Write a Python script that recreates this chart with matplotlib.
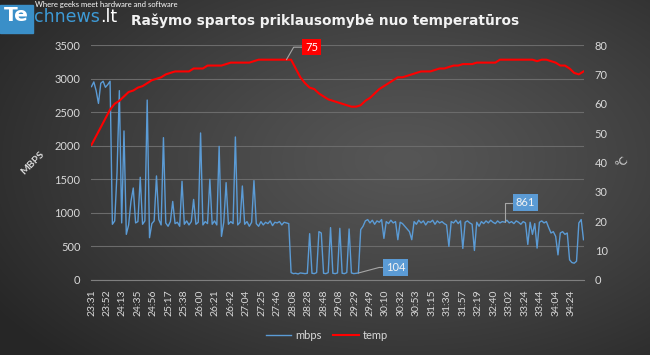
import numpy as np
import matplotlib
matplotlib.use('Agg')
import matplotlib.pyplot as plt
from matplotlib.patches import Rectangle

plt.rcParams['font.family'] = ['Lato', 'DejaVu Sans']

# x axis: one category per sample, every 20th sample labelled
n_points = 637
label_step = 20
time_labels = ['23:31', '23:52', '24:13', '24:35', '24:56', '25:17', '25:38', '26:00',
               '26:21', '26:42', '27:04', '27:25', '27:46', '28:08', '28:28', '28:48',
               '29:08', '29:29', '29:49', '30:10', '30:32', '30:53', '31:15', '31:36',
               '31:57', '32:19', '32:40', '33:02', '33:24', '33:44', '34:04', '34:24']

# write speed, read every 3rd sample
mbps = [2880, 2950, 2820, 2630, 2930, 2960, 2870, 2910, 2960, 830,
        880, 1600, 2820, 850, 2220, 680, 820, 1170, 1370, 850,
        870, 1530, 830, 880, 2680, 630, 840, 880, 1550, 900,
        820, 2120, 850, 800, 870, 1170, 840, 860, 800, 1470,
        830, 880, 820, 870, 1200, 830, 860, 2190, 820, 870,
        840, 1500, 830, 880, 820, 1990, 650, 860, 1450, 830,
        870, 840, 2130, 820, 860, 1400, 830, 870, 800, 860,
        1480, 840, 800, 870, 820, 860, 840, 880, 810, 860,
        850, 870, 820, 860, 850, 840, 110, 95, 100, 90,
        105, 100, 95, 100, 690, 100, 95, 110, 720, 700,
        100, 95, 110, 780, 100, 95, 105, 770, 100, 95,
        110, 760, 105, 95, 100, 104, 750, 800, 880, 900,
        850, 890, 830, 880, 860, 900, 620, 870, 840, 890,
        850, 870, 600, 860, 840, 800, 760, 720, 600, 870,
        830, 890, 850, 880, 820, 870, 860, 890, 830, 880,
        850, 870, 840, 820, 500, 870, 850, 890, 840, 880,
        470, 860, 880, 850, 830, 440, 860, 800, 870, 840,
        880, 850, 890, 860, 840, 880, 850, 870, 861, 890,
        850, 870, 840, 880, 860, 830, 870, 850, 530, 860,
        680, 840, 475, 860, 880, 850, 870, 780, 700, 720,
        650, 374, 700, 720, 680, 700, 300, 260, 250, 280,
        850, 900, 600]

# temperature, read every 6th sample
temp = [46, 49, 52, 55, 58, 60, 61, 62.5, 64, 64.5,
        65.5, 66, 67, 68, 68.5, 69, 70, 70.5, 71, 71,
        71, 71, 72, 72, 72, 73, 73, 73, 73, 73.5,
        74, 74, 74, 74, 74, 74.5, 75, 75, 75, 75,
        75, 75, 75, 75, 72, 69, 67, 65.5, 65, 63.5,
        62.5, 61.5, 61, 60.5, 60, 59.5, 59, 59, 59.5, 61,
        62, 63.5, 65, 66, 67, 68, 69, 69, 69.5, 70,
        70.5, 71, 71, 71, 71.5, 72, 72, 72.5, 73, 73,
        73.5, 73.5, 73.5, 74, 74, 74, 74, 74, 75, 75,
        75, 75, 75, 75, 75, 75, 74.5, 75, 75, 74.5,
        74, 73, 73, 72, 70.5, 70, 71]

x_mbps = np.linspace(0, n_points - 1, len(mbps))
x_temp = np.linspace(0, n_points - 1, len(temp))

fig = plt.figure(figsize=(6.5, 3.55), dpi=100)

# dark radial background
bg_ax = fig.add_axes([0, 0, 1, 1], zorder=-10)
yy, xx = np.mgrid[0:1:355j, 0:1:650j]
r = np.clip(np.sqrt(((xx - 0.62) / 0.75) ** 2 + ((yy - 0.45) / 0.8) ** 2), 0, 1)
grey = (86 - 48 * r ** 1.2) / 255
bg_ax.imshow(np.dstack([grey, grey, grey]), aspect='auto', extent=[0, 1, 0, 1])
bg_ax.axis('off')

ax = fig.add_axes([91.5 / 650, 1 - 280 / 355, 492 / 650, 235 / 355])
ax.patch.set_visible(False)
ax.plot(x_mbps, mbps, color='#5b9bd5', lw=1.0, label='mbps')
ax.set_xlim(0, n_points - 1)
ax.set_ylim(0, 3500)
ax.set_yticks(np.arange(0, 3501, 500))
ax.set_xticks(np.arange(0, n_points, label_step))
ax.set_xticklabels(time_labels, rotation=90, fontsize=7.5)
ax.grid(axis='y', color='#6b6b6b', lw=0.8)
ax.set_axisbelow(True)
ax.tick_params(axis='x', length=0, pad=7, colors='#d9d9d9')
ax.tick_params(axis='y', length=0, pad=8, colors='#d9d9d9', labelsize=8)
for s in ['top', 'left', 'right']:
    ax.spines[s].set_visible(False)
ax.spines['bottom'].set_color('#7f7f7f')

ax2 = ax.twinx()
ax2.plot(x_temp, temp, color='#ff0000', lw=1.5, label='temp')
ax2.set_ylim(0, 80)
ax2.set_yticks(np.arange(0, 81, 10))
ax2.tick_params(axis='y', length=0, pad=8, colors='#d9d9d9', labelsize=8)
for s in ax2.spines.values():
    s.set_visible(False)

# data labels
ax2.annotate('75', xy=(x_temp[42], temp[42]), xytext=(18, 9), textcoords='offset points',
             ha='center', va='center', color='white', fontsize=8,
             bbox=dict(boxstyle='square,pad=0.25', fc='#ff0000', ec='none'),
             arrowprops=dict(arrowstyle='-', color='#a6a6a6', lw=0.8, shrinkA=0, shrinkB=0,
                             connectionstyle='angle,angleA=0,angleB=60,rad=0'))
ax.annotate('104', xy=(x_mbps[115], mbps[115]), xytext=(27, 4), textcoords='offset points',
            ha='center', va='center', color='#f2f2f2', fontsize=8,
            bbox=dict(boxstyle='square,pad=0.25', fc='#5b9bd5', ec='none'),
            arrowprops=dict(arrowstyle='-', color='#a6a6a6', lw=0.8, shrinkA=0, shrinkB=0,
                            connectionstyle='angle,angleA=0,angleB=15,rad=0'))
ax.annotate('861', xy=(x_mbps[178], mbps[178]), xytext=(15, 14), textcoords='offset points',
            ha='center', va='center', color='#f2f2f2', fontsize=8,
            bbox=dict(boxstyle='square,pad=0.25', fc='#5b9bd5', ec='none'),
            arrowprops=dict(arrowstyle='-', color='#a6a6a6', lw=0.8, shrinkA=0, shrinkB=0,
                            connectionstyle='angle,angleA=0,angleB=90,rad=0'))

fig.text(33 / 650, 1 - 163 / 355, 'MBPS', rotation=45, ha='center', va='center',
         fontsize=7.5, fontweight='bold', color='#d9d9d9')
fig.text(622 / 650, 1 - 162 / 355, '°C', rotation=45, ha='center', va='center',
         fontsize=8, color='#d9d9d9')

h1, l1 = ax.get_legend_handles_labels()
h2, l2 = ax2.get_legend_handles_labels()
fig.legend(h1 + h2, l1 + l2, loc='center', bbox_to_anchor=(0.503, 0.0563), ncol=2,
           frameon=False, fontsize=8, labelcolor='#d9d9d9', handlelength=2.3,
           columnspacing=1.0, handletextpad=0.4)

# title and logo
fig.text(131 / 650, 1 - 25 / 355, 'Rašymo spartos priklausomybė nuo temperatūros',
         fontsize=9.9, fontweight='bold', color='#f2f2f2', ha='left', va='baseline',
         family='DejaVu Sans')
fig.patches.append(Rectangle((0, 1 - 33 / 355), 33 / 650, 28 / 355, color='#3a8fc8',
                             transform=fig.transFigure, zorder=5))
fig.text(16 / 650, 1 - 21 / 355, 'Te', fontsize=14.5, fontweight='bold', color='white',
         ha='center', va='baseline', family='DejaVu Sans', zorder=6)
brand = fig.text(34 / 650, 1 - 21.5 / 355, 'chnews', fontsize=12.5, color='#3d9ad6',
                 ha='left', va='baseline', family='DejaVu Sans')
fig.canvas.draw()
brand_end = brand.get_window_extent().x1 / fig.bbox.width
fig.text(brand_end, 1 - 21.5 / 355, '.lt', fontsize=12.5, color='white',
         ha='left', va='baseline', family='DejaVu Sans')
fig.text(35 / 650, 1 - 7 / 355, 'Where geeks meet hardware and software', fontsize=5.5,
         color='white', ha='left', va='baseline')

fig.savefig('out.png', dpi=100)
